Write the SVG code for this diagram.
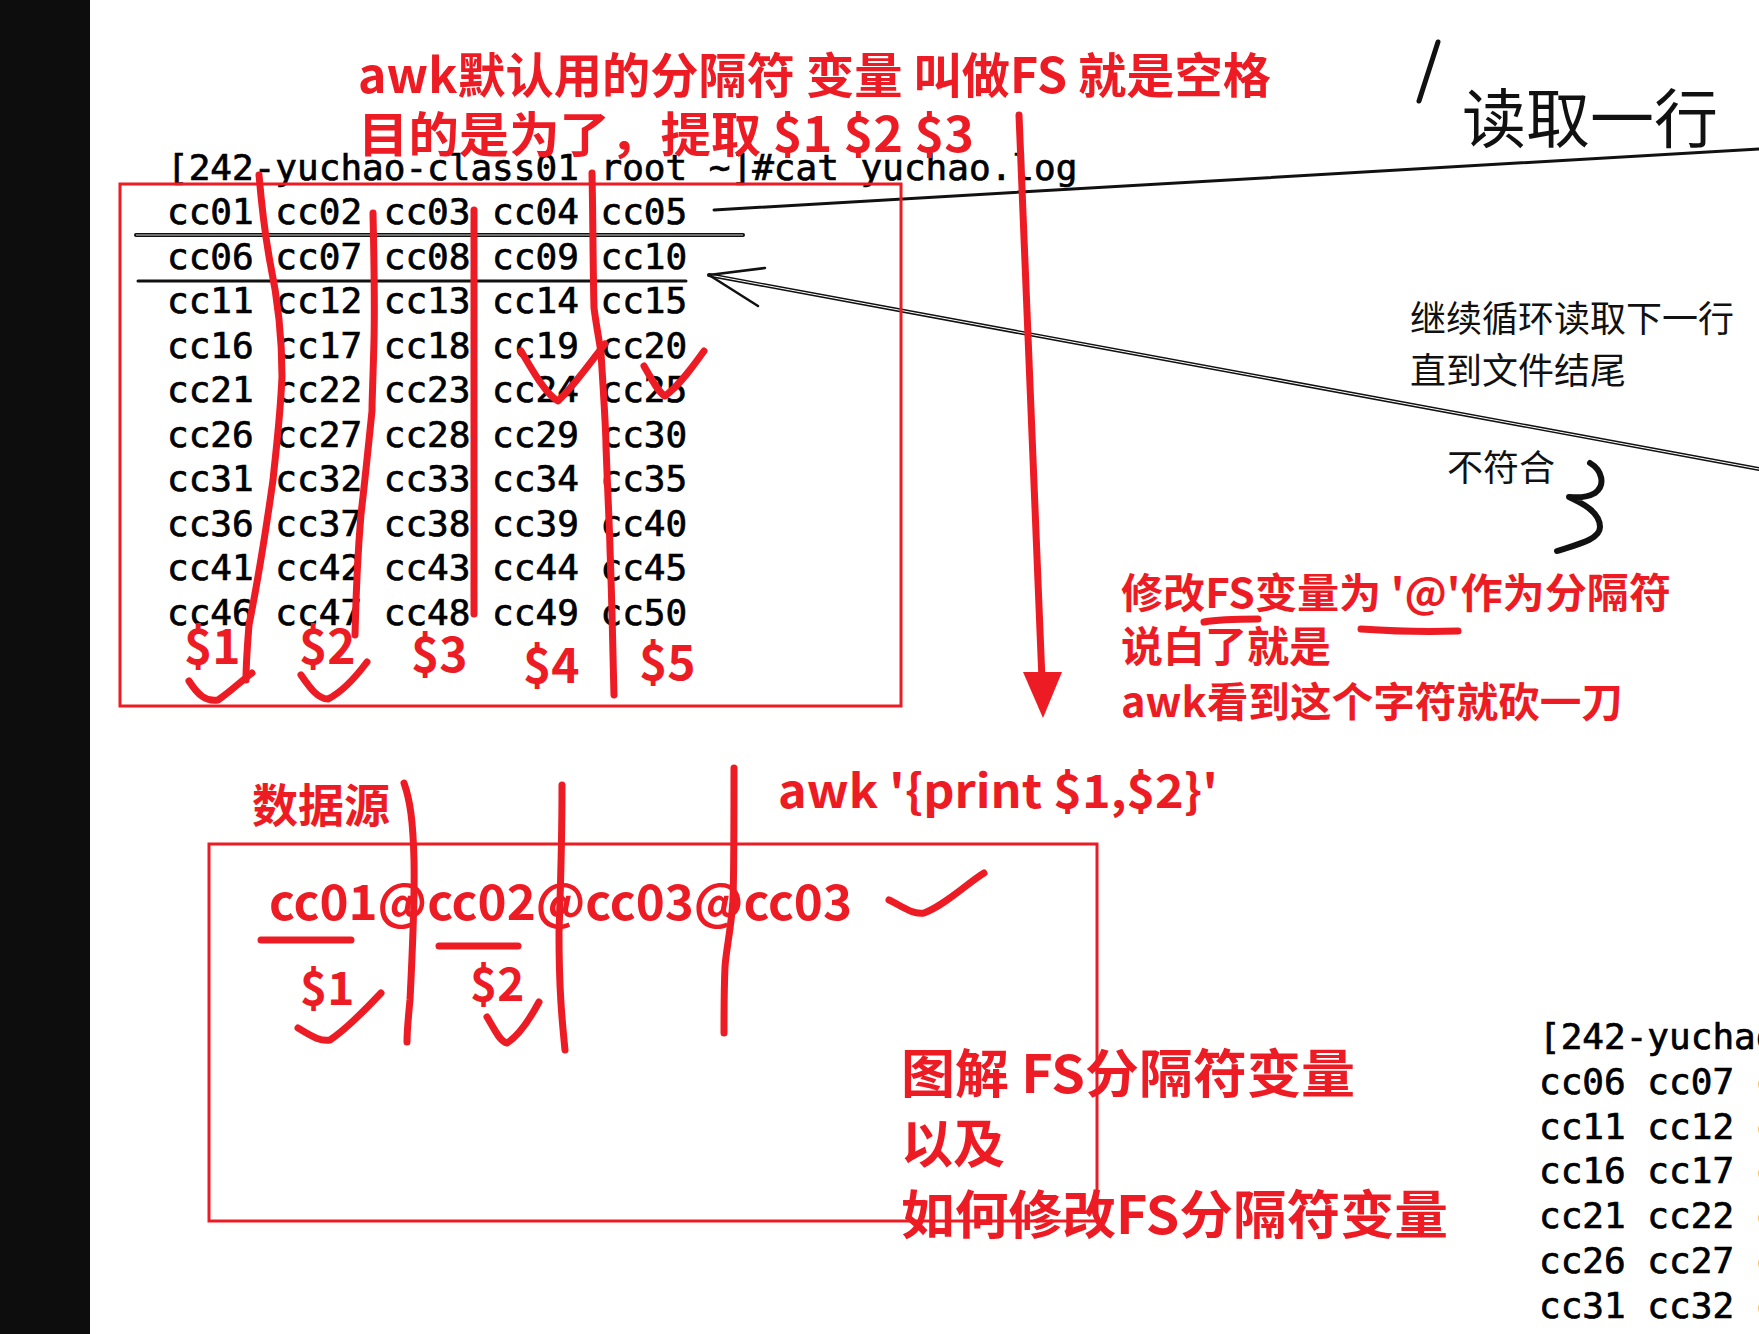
<svg xmlns="http://www.w3.org/2000/svg" width="1759" height="1334" viewBox="0 0 1759 1334">
<style>
.mono{font-family:"DejaVu Sans Mono","Liberation Mono",monospace;font-size:36px;fill:#000;stroke:#000;stroke-width:0.7}
.red{font-family:"Noto Sans CJK SC","Noto Sans",sans-serif;font-weight:700;fill:#ed1c24}
.blk{font-family:"Noto Sans CJK SC","Noto Sans",sans-serif;font-weight:400;fill:#111}
.pen{fill:none;stroke:#ed1c24;stroke-width:7;stroke-linecap:round;stroke-linejoin:round}
.box{fill:none;stroke:#ed1c24;stroke-width:3}
.ink{fill:none;stroke:#111;stroke-linecap:round;stroke-linejoin:round}
</style>
<rect x="0" y="0" width="1759" height="1334" fill="#fff"/>
<rect x="0" y="0" width="90" height="1334" fill="#0d0d0d"/>

<g id="terminal">
<text class="mono" x="167" y="180">[242-yuchao-class01 root ~]#cat yuchao.log</text>
<text class="mono" x="167" y="224">cc01 cc02 cc03 cc04 cc05</text>
<text class="mono" x="167" y="269">cc06 cc07 cc08 cc09 cc10</text>
<text class="mono" x="167" y="313">cc11 cc12 cc13 cc14 cc15</text>
<text class="mono" x="167" y="358">cc16 cc17 cc18 cc19 cc20</text>
<text class="mono" x="167" y="402">cc21 cc22 cc23 cc24 cc25</text>
<text class="mono" x="167" y="447">cc26 cc27 cc28 cc29 cc30</text>
<text class="mono" x="167" y="491">cc31 cc32 cc33 cc34 cc35</text>
<text class="mono" x="167" y="536">cc36 cc37 cc38 cc39 cc40</text>
<text class="mono" x="167" y="580">cc41 cc42 cc43 cc44 cc45</text>
<text class="mono" x="167" y="625">cc46 cc47 cc48 cc49 cc50</text>
</g>

<g id="terminal2">
<text class="mono" x="1539" y="1049">[242-yuchao</text>
<text class="mono" x="1539" y="1094">cc06 cc07 c</text>
<text class="mono" x="1539" y="1139">cc11 cc12 c</text>
<text class="mono" x="1539" y="1183">cc16 cc17 c</text>
<text class="mono" x="1539" y="1228">cc21 cc22 c</text>
<text class="mono" x="1539" y="1273">cc26 cc27 c</text>
<text class="mono" x="1539" y="1318">cc31 cc32 c</text>
</g>

<g id="connectors">
<line class="ink" x1="136" y1="235" x2="743" y2="235" stroke-width="4"/>
<line x1="136" y1="235" x2="743" y2="235" stroke="#fff" stroke-width="0.8"/>
<line class="ink" x1="138" y1="281" x2="686" y2="281" stroke-width="3"/>
<line class="ink" x1="714" y1="210" x2="1759" y2="149" stroke-width="3"/>
<line class="ink" x1="709" y1="275" x2="1759" y2="469" stroke-width="4"/>
<line x1="712" y1="275.5" x2="1759" y2="469" stroke="#fff" stroke-width="1"/>
<path class="ink" d="M765 268 L709 275 L758 306" stroke-width="2.5"/>
<path class="ink" d="M1438 42 L1419 101" stroke-width="5"/>
<path class="ink" d="M1590 463 C1602 470 1606 485 1595 493 C1585 499 1570 497 1569 497 C1582 503 1600 512 1600 527 C1600 540 1575 545 1557 551" stroke-width="6"/>
</g>

<g id="title">
<text class="red" x="358" y="93" font-size="48" textLength="913" lengthAdjust="spacingAndGlyphs">awk默认用的分隔符 变量 叫做FS 就是空格</text>
<text class="red" x="358" y="152" font-size="48" textLength="616" lengthAdjust="spacingAndGlyphs">目的是为了，提取 $1 $2 $3</text>
</g>

<g id="notes-black">
<text class="blk" x="1462" y="142" font-size="64">读取一行</text>
<text class="blk" x="1410" y="332" font-size="36">继续循环读取下一行</text>
<text class="blk" x="1410" y="384" font-size="36">直到文件结尾</text>
<text class="blk" x="1447" y="481" font-size="36">不符合</text>
</g>

<g id="table-box">
<rect class="box" x="120" y="184" width="781" height="522"/>
<path class="pen" d="M259 175 C262 210 266 240 270 262 C278 300 282 340 282 377 C280 420 276 450 273 480 C266 530 258 580 249 625 C247 650 246 665 246 680"/>
<path class="pen" d="M189 681 C198 695 206 702 218 700 C230 692 240 682 252 673"/>
<path class="pen" d="M373 213 C374 260 375 300 374 340 C373 380 372 400 372 411 C368 450 364 490 361 514 C358 550 356 590 355 635"/>
<path class="pen" d="M301 675 C310 688 318 699 328 699 C342 692 355 678 367 662"/>
<path class="pen" d="M474 210 L474 614"/>
<path class="pen" d="M592 173 C593 220 593 270 594 308 C597 330 600 345 601 353 C604 400 606 440 606 446 C608 500 610 540 610 549 C612 600 613 660 614 695"/>
<path class="pen" d="M521 351 C535 375 547 395 558 401 C575 385 592 360 605 344"/>
<path class="pen" d="M644 366 C652 380 659 393 665 396 C680 385 694 365 704 351"/>
<text class="red" x="184" y="664" font-size="48">$1</text>
<text class="red" x="299" y="664" font-size="48">$2</text>
<text class="red" x="411" y="672" font-size="48">$3</text>
<text class="red" x="523" y="683" font-size="48">$4</text>
<text class="red" x="639" y="680" font-size="48">$5</text>
</g>

<g id="down-arrow">
<path class="pen" d="M1019 115 L1042 680" stroke-width="6"/>
<path d="M1023 672 L1062 672 L1043 718 Z" fill="#ed1c24"/>
</g>

<g id="fs-note">
<text class="red" x="1121" y="608" font-size="41" textLength="550" lengthAdjust="spacingAndGlyphs">修改FS变量为 '@'作为分隔符</text>
<path class="pen" d="M1204 622 C1220 619 1240 619 1258 619"/>
<path class="pen" d="M1361 629 C1390 631 1430 632 1458 631"/>
<text class="red" x="1121" y="662" font-size="42">说白了就是</text>
<text class="red" x="1121" y="717" font-size="41" textLength="502" lengthAdjust="spacingAndGlyphs">awk看到这个字符就砍一刀</text>
</g>

<g id="awk-cmd">
<text class="red" x="778" y="808" font-size="46" textLength="440" lengthAdjust="spacingAndGlyphs">awk '{print $1,$2}'</text>
</g>

<g id="data-source">
<text class="red" x="252" y="822" font-size="46">数据源</text>
<rect class="box" x="209" y="844" width="888" height="377"/>
<text class="red" x="269" y="920" font-size="48" textLength="583" lengthAdjust="spacingAndGlyphs">cc01@cc02@cc03@cc03</text>
<path class="pen" d="M261 940 L351 940" stroke-width="9"/>
<path class="pen" d="M439 946 L518 946" stroke-width="9"/>
<path class="pen" d="M404 783 C410 800 413 820 414 860 C415 900 412 960 410 1000 C408 1020 407 1035 407 1042"/>
<path class="pen" d="M562 785 C562 850 560 900 559 933 C559 990 562 1020 565 1050"/>
<path class="pen" d="M734 768 C734 830 734 870 733 900 C731 930 726 950 725 967 C724 990 724 1010 724 1033"/>
<text class="red" x="300" y="1005" font-size="46">$1</text>
<text class="red" x="470" y="1001" font-size="46">$2</text>
<path class="pen" d="M298 1028 C310 1035 320 1042 330 1040 C345 1030 365 1010 381 993"/>
<path class="pen" d="M487 1017 C495 1030 500 1042 507 1043 C520 1035 532 1015 539 1002"/>
<path class="pen" d="M889 900 C900 905 912 915 924 913 C945 905 965 885 984 873"/>
</g>

<g id="caption">
<text class="red" x="901" y="1093" font-size="52" textLength="454" lengthAdjust="spacingAndGlyphs">图解 FS分隔符变量</text>
<text class="red" x="901" y="1163" font-size="52">以及</text>
<text class="red" x="901" y="1234" font-size="52" textLength="547" lengthAdjust="spacingAndGlyphs">如何修改FS分隔符变量</text>
</g>
</svg>
